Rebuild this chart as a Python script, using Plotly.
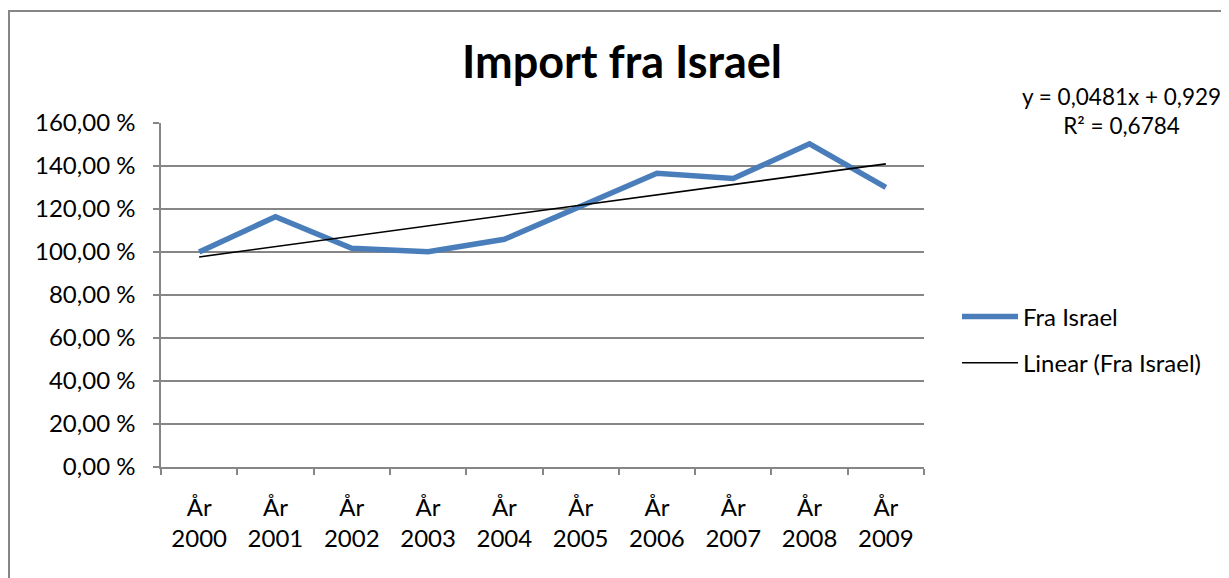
import plotly.graph_objects as go

# ---- data ----
categories = ["År 2000", "År 2001", "År 2002", "År 2003", "År 2004",
              "År 2005", "År 2006", "År 2007", "År 2008", "År 2009"]
import_pct = [100.0, 116.4, 101.7, 100.1, 105.9, 121.1, 136.6, 134.2, 150.3, 130.1]
trend_slope = 0.0481
trend_intercept = 0.929
trend_r2 = "0,6784"
y_ticks = [0, 20, 40, 60, 80, 100, 120, 140, 160]
y_tick_labels = [f"{v:.2f}".replace(".", ",") + " %" for v in y_ticks]

OFF = 8                      # page body margin in the browser
W, H = 1229 - OFF, 578 - OFF
L, R, T, B = 161, 924, 123, 467  # plot area in reference pixels

FONT = "Lato"
GRAY = "#868686"

def px_x(p):
    return (p - L) / (R - L)

def px_y(p):
    return (B - p) / (B - T)

trend = [(trend_slope * (i + 1) + trend_intercept) * 100 for i in range(len(categories))]

fig = go.Figure()
fig.add_trace(go.Scatter(
    x=categories, y=import_pct, mode="lines", name="Fra Israel",
    line=dict(color="#4A7EBB", width=5.5), legendgroup="a"))
fig.add_trace(go.Scatter(
    x=categories, y=trend, mode="lines", name="Linear (Fra Israel)",
    line=dict(color="black", width=1.6), legendgroup="b"))

fig.update_layout(
    width=W, height=H, autosize=False,
    margin=dict(l=L - OFF, r=W - (R - OFF), t=T - OFF, b=H - (B - OFF), pad=0),
    paper_bgcolor="white", plot_bgcolor="white",
    font=dict(family=FONT, size=24, color="black"),
    title=dict(text="<b>Import fra Israel</b>", x=(622 - OFF) / W, xanchor="center",
               y=1 - (62 - OFF) / H, yanchor="middle",
               font=dict(family=FONT, size=45, color="black")),
    xaxis=dict(type="category", tickmode="array", tickvals=categories,
               ticktext=[c.replace(" ", "<br>") for c in categories],
               tickson="boundaries", ticks="outside", ticklen=6,
               tickcolor=GRAY, tickwidth=1.5, showline=True, linecolor=GRAY,
               linewidth=1.5, showgrid=False, range=[-0.5, 9.5],
               ticklabelstandoff=18, fixedrange=True),
    yaxis=dict(range=[0, 160], tickmode="array", tickvals=y_ticks,
               ticktext=y_tick_labels, showgrid=True,
               gridcolor=GRAY, gridwidth=1.5, ticks="outside", ticklen=6,
               tickcolor=GRAY, tickwidth=1.5, showline=True, linecolor=GRAY,
               linewidth=1.5, zeroline=False, ticklabelstandoff=13,
               fixedrange=True),
    legend=dict(x=px_x(957), xanchor="left", y=px_y(340), yanchor="middle",
                bgcolor="rgba(0,0,0,0)", traceorder="grouped",
                tracegroupgap=12, itemwidth=56, font=dict(family=FONT, size=24)),
    showlegend=True,
)

fig.add_annotation(
    xref="paper", yref="paper", x=px_x(1121), y=px_y(111),
    xanchor="center", yanchor="middle", showarrow=False, align="center",
    text=f"y = {str(trend_slope).replace('.', ',')}x + {str(trend_intercept).replace('.', ',')}<br>R² = {trend_r2}",
    font=dict(family=FONT, size=22.5, color="black"))

fig.add_shape(type="rect", xref="paper", yref="paper",
              x0=px_x(9), x1=px_x(1245), y0=px_y(595), y1=px_y(11),
              line=dict(color=GRAY, width=2), layer="below")

fig.write_html("out.html")
